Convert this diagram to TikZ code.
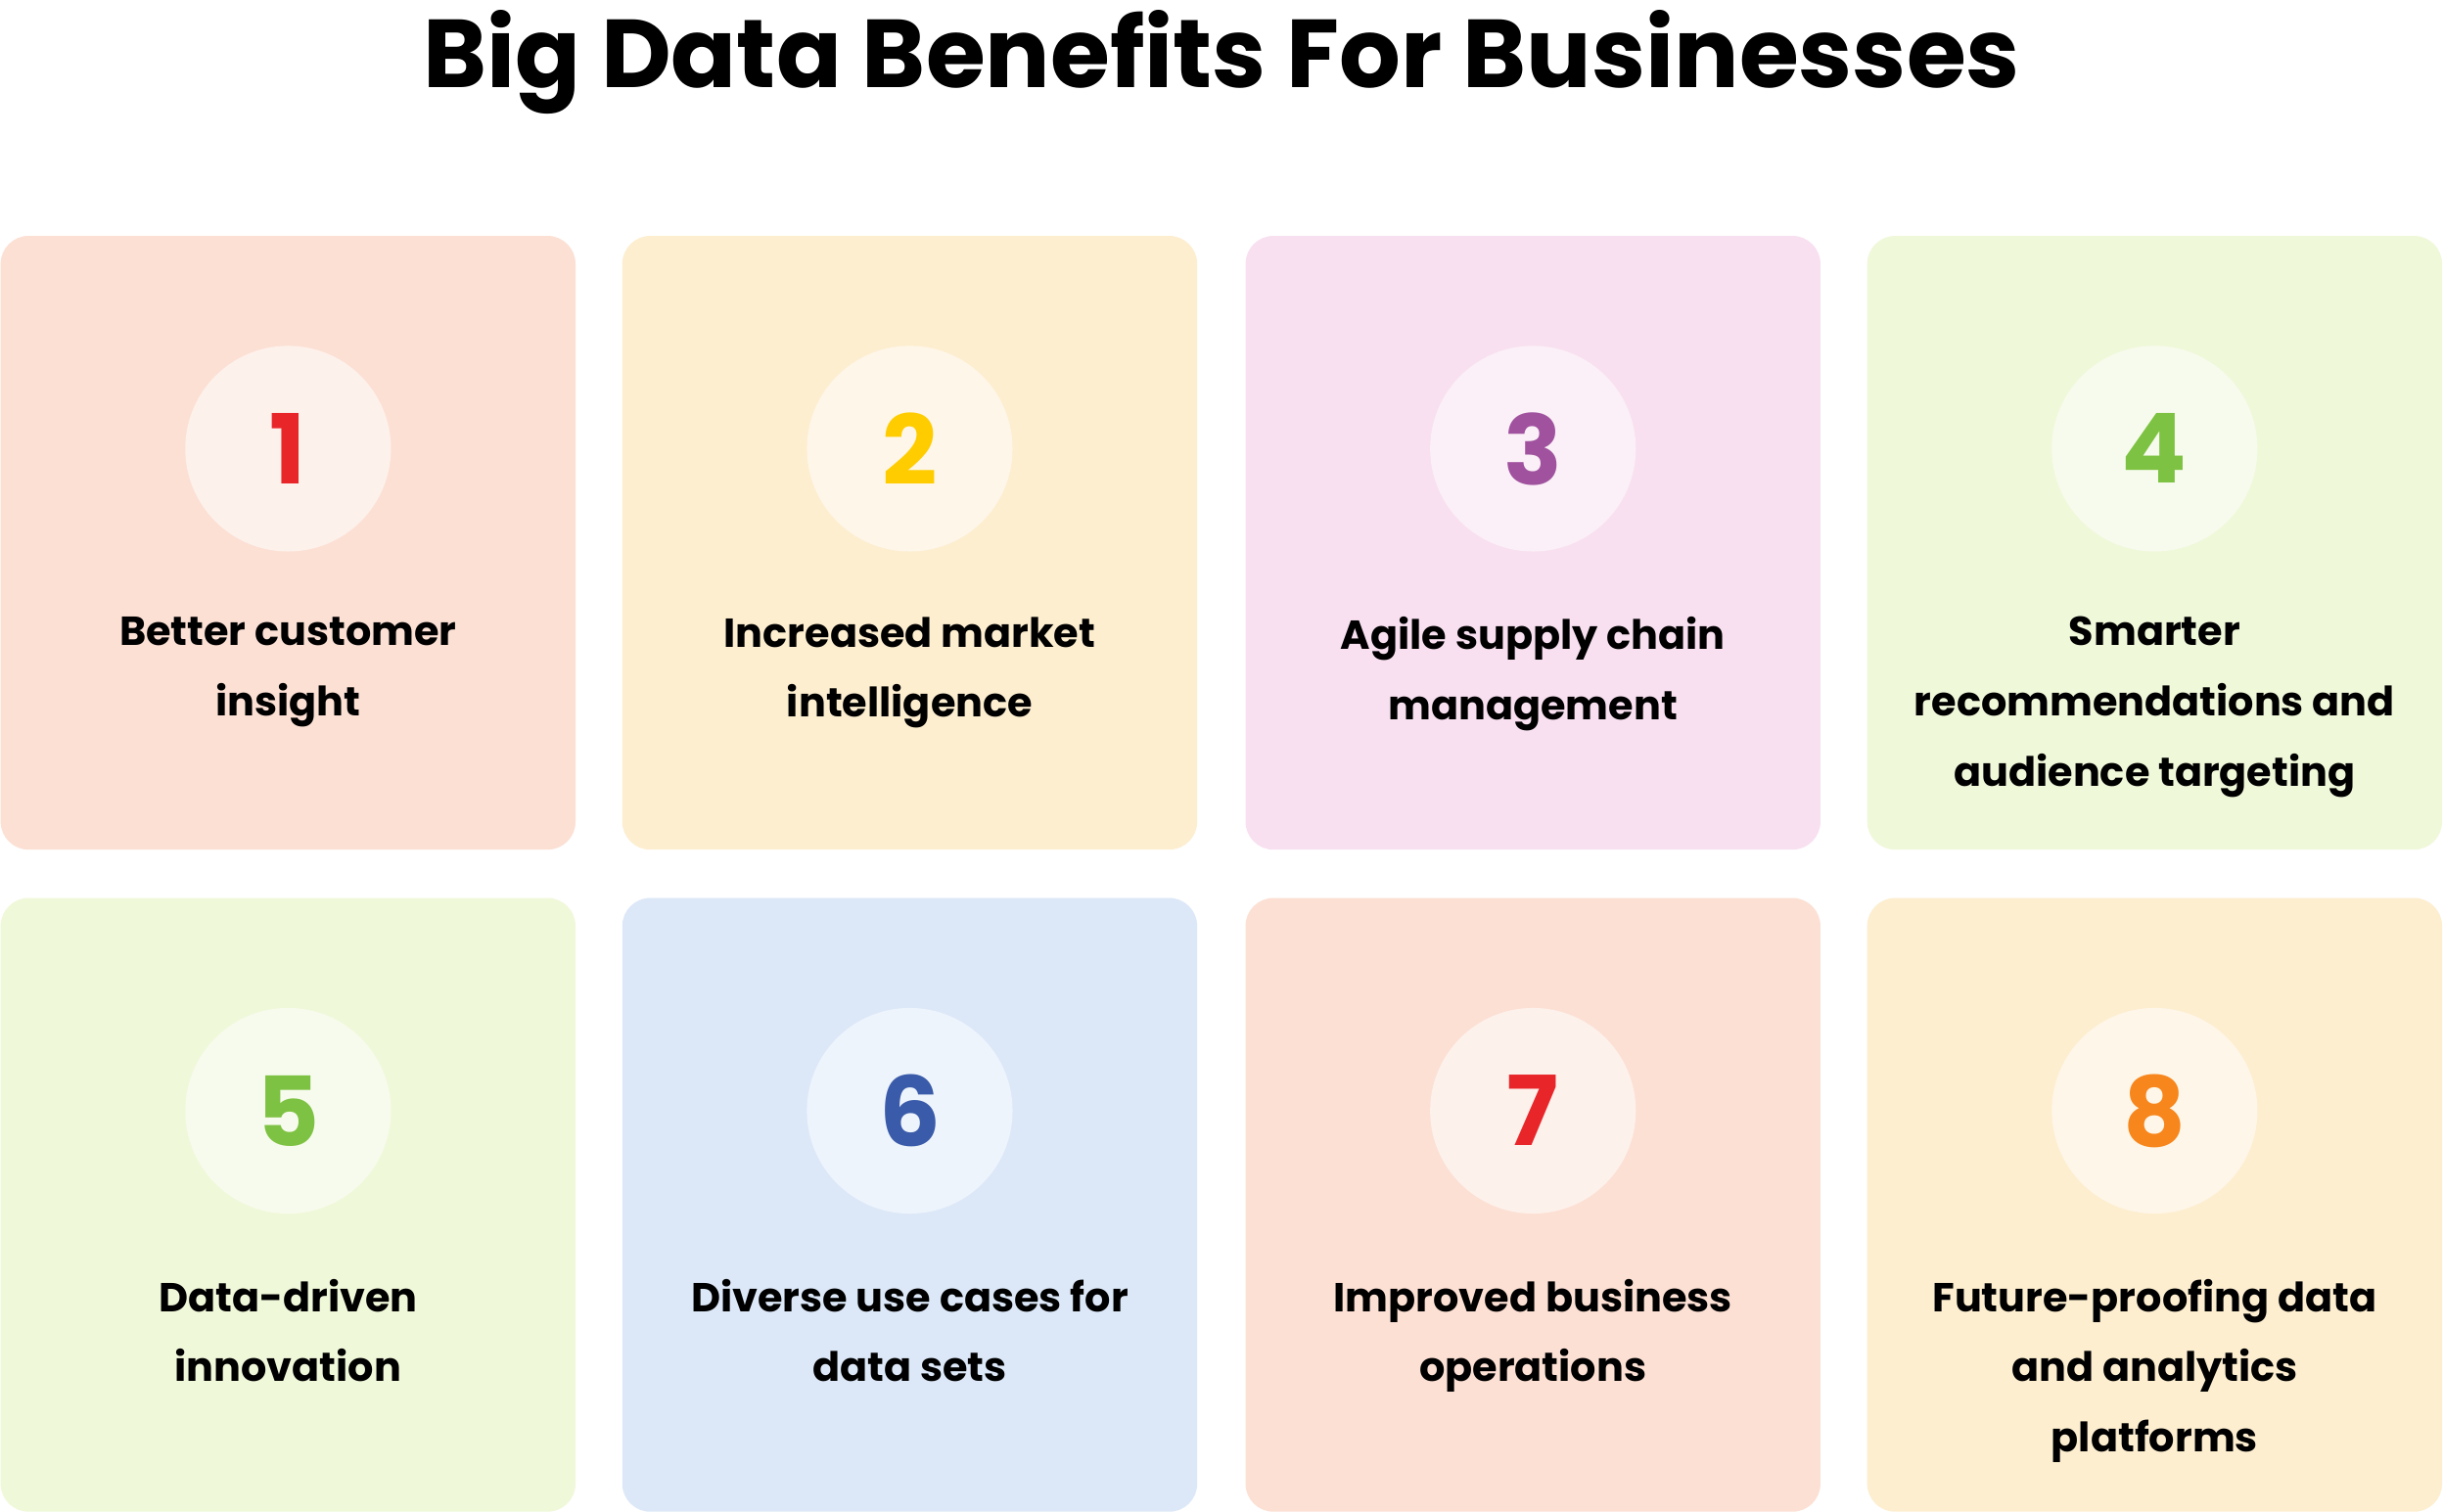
\documentclass[tikz,border=0pt]{standalone}
\usepackage{fontspec}
\setmainfont{Poppins}
\definecolor{cA}{HTML}{FCE0D4}\definecolor{cAc}{HTML}{FDF1EC}
\definecolor{cB}{HTML}{FDEED0}\definecolor{cBc}{HTML}{FEF6E8}
\definecolor{cC}{HTML}{F8E0F0}\definecolor{cCc}{HTML}{FBF0F7}
\definecolor{cD}{HTML}{F0F8DA}\definecolor{cDc}{HTML}{F7FBED}
\definecolor{cE}{HTML}{DCE8F8}\definecolor{cEc}{HTML}{EEF4FC}
\definecolor{nR}{HTML}{E8262A}\definecolor{nY}{HTML}{FFCC00}
\definecolor{nP}{HTML}{A0529F}\definecolor{nG}{HTML}{7DC242}
\definecolor{nB}{HTML}{3A5BA9}\definecolor{nO}{HTML}{F7861C}
\tikzset{card/.style={rounded corners=9pt,inner sep=0pt,minimum width=184.5pt,minimum height=197pt},
circ/.style={circle,minimum size=66pt,inner sep=0pt,font=\fontsize{31}{31}\selectfont\bfseries},
lbl/.style={align=center,font=\fontsize{13}{22.5}\selectfont\bfseries,anchor=north}}
\begin{document}
\begin{tikzpicture}[x=0.5pt,y=-0.5pt]
\useasboundingbox[fill=white] (0,0) rectangle (1568,970);
\node[font=\fontsize{31}{31}\selectfont\bfseries] (title) at (784,40) {Big Data Benefits For Businesses};
\foreach \i/\x/\y/\bg/\cc/\nc/\t in {
1/0/151/cA/cAc/nR/{Better customer\\insight},
2/399/151/cB/cBc/nY/{Increased market\\intelligence},
3/799/151/cC/cCc/nP/{Agile supply chain\\management},
4/1198/151/cD/cDc/nG/{Smarter\\recommendations and\\audience targeting},
5/0/576/cD/cDc/nG/{Data-driven\\innovation},
6/399/576/cE/cEc/nB/{Diverse use cases for\\data sets},
7/799/576/cA/cAc/nR/{Improved business\\operations},
8/1198/576/cB/cBc/nO/{Future-proofing data\\and analytics\\platforms}}{
\node[card,fill=\bg,anchor=north west] (card\i) at (\x,\y) {};
\node[circ,fill=\cc,text=\nc] (num\i) at ([yshift=-68.5pt]card\i.north) {\i};
\node[lbl] (txt\i) at ([yshift=-119pt]card\i.north) {\t};
}
\end{tikzpicture}
\end{document}
